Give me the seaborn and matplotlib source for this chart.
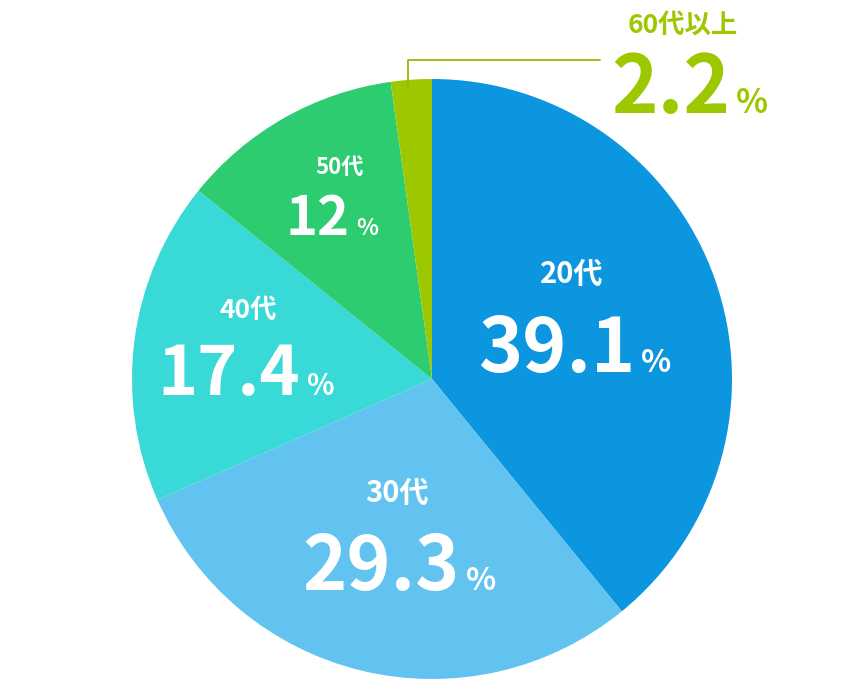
import matplotlib
matplotlib.use("Agg")
import matplotlib.pyplot as plt
import seaborn as sns

categories = ["20代", "30代", "40代", "50代", "60代以上"]
values = [39.1, 29.3, 17.4, 12, 2.2]
value_labels = ["39.1", "29.3", "17.4", "12", "2.2"]
colors = ["#0B96DF", "#62C3F1", "#38D9D6", "#2ECC71", "#9DC800"]

sns.set_theme(style="white")
plt.rcParams['font.family'] = ['Noto Sans CJK JP', 'DejaVu Sans']

fig = plt.figure(figsize=(8.64, 6.8), dpi=100)
ax = fig.add_axes([0, 0, 1, 1])
ax.pie(values, colors=colors, startangle=90, counterclock=False, radius=300,
       center=(0, 0), wedgeprops=dict(linewidth=0))
ax.set_xlim(-432, 432)
ax.set_ylim(-301, 379)
ax.set_aspect('equal')
ax.axis('off')

def P(x, y):
    return x - 432, 379 - y

# layout: (title center x, title baseline y, title size, number right x, number baseline y, number size)
layout = [
    (572, 283, 21, 635, 372, 54),
    (397, 502, 21, 460, 590, 54),
    (248, 318, 19, 300, 395, 49),
    (340, 174, 16, 350, 235, 39),
    (683, 33, 19, 730, 113, 57),
]
for i, (cat, lab) in enumerate(zip(categories, value_labels)):
    tx, ty, ts, nx, ny, ns = layout[i]
    c = "white" if i < 4 else "#9DC800"
    ax.text(*P(tx, ty), cat, ha='center', va='baseline', fontsize=ts,
            fontweight='bold', color=c)
    ax.text(*P(nx, ny), lab, ha='right', va='baseline', fontsize=ns,
            fontweight='bold', color=c)
    ax.text(*P(nx + 6, ny), "%", ha='left', va='baseline', fontsize=ns * 0.42,
            fontweight='bold', color=c)

x0, y0 = P(408, 60)
x1, _ = P(600, 60)
_, y2 = P(408, 88)
ax.plot([x1, x0, x0], [y0, y0, y2], color="#9DB800", lw=1.3)

fig.savefig("out.png", dpi=100)
